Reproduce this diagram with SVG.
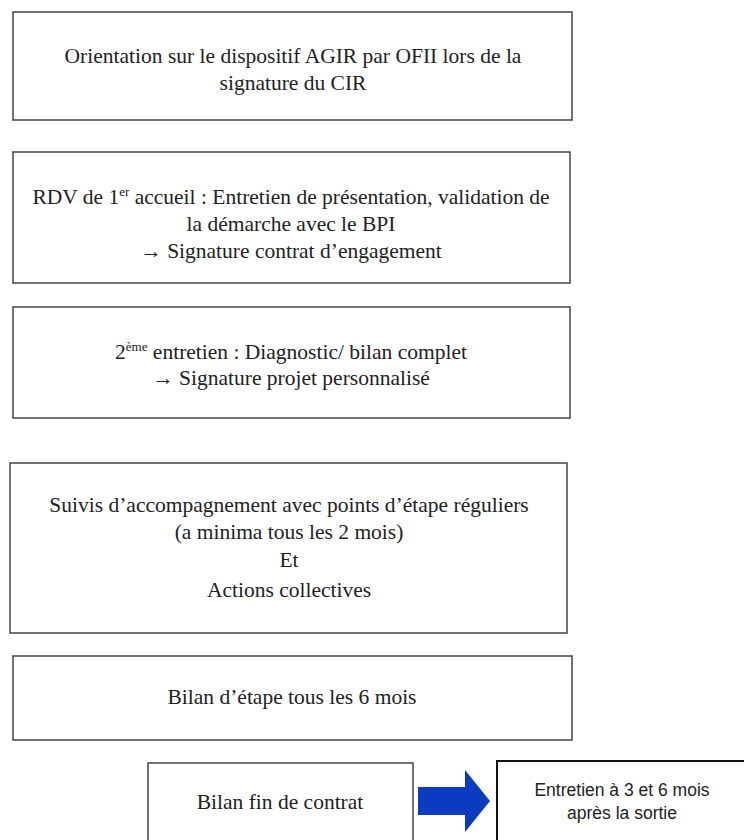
<svg xmlns="http://www.w3.org/2000/svg" width="744" height="840" viewBox="0 0 744 840">
<style>
.box{fill:#fff;stroke:#444;stroke-width:1.5}
.box2{fill:#fff;stroke:#111;stroke-width:2}
.t{font-family:"Liberation Serif","Times New Roman",serif;font-size:21.5px;fill:#222;text-anchor:middle}
.s{font-family:"Liberation Sans",Arial,sans-serif;font-size:17.5px;fill:#222;text-anchor:middle}
.sup{font-size:13px}
</style>
<rect width="744" height="840" fill="#fff"/>
<g id="n1"><rect class="box" x="13" y="12" width="559" height="108"/>
<text class="t" x="293" y="63">Orientation sur le dispositif AGIR par OFII lors de la</text>
<text class="t" x="293" y="90">signature du CIR</text></g>
<g id="n2"><rect class="box" x="13" y="152" width="557" height="131"/>
<text class="t" x="291" y="204">RDV de 1<tspan class="sup" dy="-8">er</tspan><tspan dy="8"> accueil : Entretien de présentation, validation de</tspan></text>
<text class="t" x="291" y="231">la démarche avec le BPI</text>
<text class="t" x="291" y="258">→ Signature contrat d’engagement</text></g>
<g id="n3"><rect class="box" x="13" y="307" width="557" height="111"/>
<text class="t" x="291" y="359">2<tspan class="sup" dy="-8">ème</tspan><tspan dy="8"> entretien : Diagnostic/ bilan complet</tspan></text>
<text class="t" x="291" y="385">→ Signature projet personnalisé</text></g>
<g id="n4"><rect class="box" x="10" y="463" width="557" height="170"/>
<text class="t" x="289" y="512">Suivis d’accompagnement avec points d’étape réguliers</text>
<text class="t" x="289" y="539">(a minima tous les 2 mois)</text>
<text class="t" x="289" y="567">Et</text>
<text class="t" x="289" y="597">Actions collectives</text></g>
<g id="n5"><rect class="box" x="13" y="656" width="559" height="84"/>
<text class="t" x="292" y="704">Bilan d’étape tous les 6 mois</text></g>
<g id="n6"><rect class="box" x="148" y="763" width="265" height="90"/>
<text class="t" x="280" y="809">Bilan fin de contrat</text></g>
<g id="n7"><rect class="box2" x="497" y="761" width="260" height="92"/>
<text class="s" x="622" y="796">Entretien à 3 et 6 mois</text>
<text class="s" x="622" y="819">après la sortie</text></g>
<g id="connectors">
<polygon points="418,787 465,787 465,770 490,801 465,832 465,815 418,815" fill="#0b3cc0"/>
</g>
</svg>
